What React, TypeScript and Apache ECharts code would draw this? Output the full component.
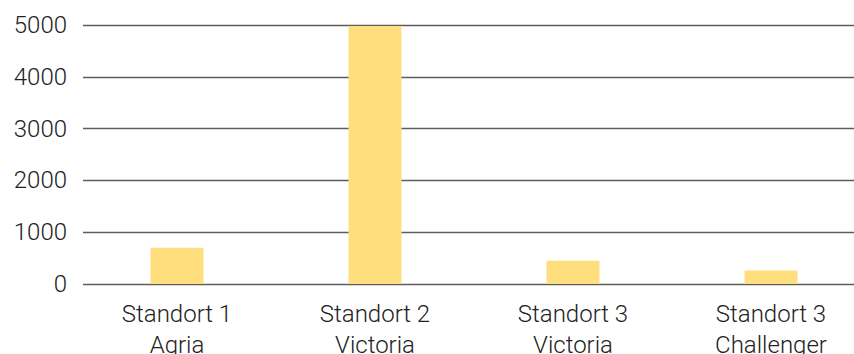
import React, { useEffect, useRef } from "react";
import * as echarts from "echarts";

const categories: string[] = [
  "Standort 1\nAgria",
  "Standort 2\nVictoria",
  "Standort 3\nVictoria",
  "Standort 3\nChallenger",
];
const values: number[] = [700, 4980, 450, 260];
const yTicks: number[] = [0, 1000, 2000, 3000, 4000, 5000];

const FONT = "Roboto";
const TEXT_COLOR = "#222222";
const GRID_COLOR = "#5c5c5c";
const BAR_COLOR = "#FFDF7D";

export default function App() {
  const ref = useRef<HTMLDivElement>(null);

  useEffect(() => {
    if (!ref.current) return;
    const chart = echarts.init(ref.current, undefined, { renderer: "svg" });
    const yMin = yTicks[0];
    const yMax = yTicks[yTicks.length - 1];
    const yStep = yTicks[1] - yTicks[0];

    chart.setOption({
      animation: false,
      backgroundColor: "#ffffff",
      grid: [
        // grid carrying the value axis and the horizontal rules
        { left: 83, right: -16, top: 25, bottom: 70, containLabel: false, outerBoundsMode: "none" },
        // grid carrying the categories and the bars
        { left: 78, right: -16, top: 25, bottom: 70, containLabel: false, outerBoundsMode: "none" },
      ],
      xAxis: [
        { type: "category", gridIndex: 0, data: categories, show: false },
        {
          type: "category",
          gridIndex: 1,
          data: categories,
          axisLine: { show: false },
          axisTick: { show: false },
          axisLabel: {
            color: TEXT_COLOR,
            fontFamily: FONT,
            fontSize: 24,
            fontWeight: 300,
            lineHeight: 31,
            margin: 14,
            interval: 0,
          },
        },
      ],
      yAxis: [
        {
          type: "value",
          gridIndex: 0,
          min: yMin,
          max: yMax,
          interval: yStep,
          axisLine: { show: false },
          axisTick: { show: false },
          axisLabel: {
            color: TEXT_COLOR,
            fontFamily: FONT,
            fontSize: 24,
            fontWeight: 300,
            margin: 16,
            formatter: (v: number) => String(v),
          },
          splitLine: { lineStyle: { color: GRID_COLOR, width: 1.4 } },
        },
        {
          type: "value",
          gridIndex: 1,
          min: yMin,
          max: yMax,
          interval: yStep,
          show: false,
          splitLine: { show: false },
        },
      ],
      series: [
        {
          type: "bar",
          xAxisIndex: 1,
          yAxisIndex: 1,
          data: values,
          barWidth: 53,
          itemStyle: { color: BAR_COLOR },
          z: 1,
        },
      ],
    });

    return () => chart.dispose();
  }, []);

  return (
    <div
      ref={ref}
      style={{ position: "absolute", left: 0, top: 0, width: 854, height: 354 }}
    />
  );
}
